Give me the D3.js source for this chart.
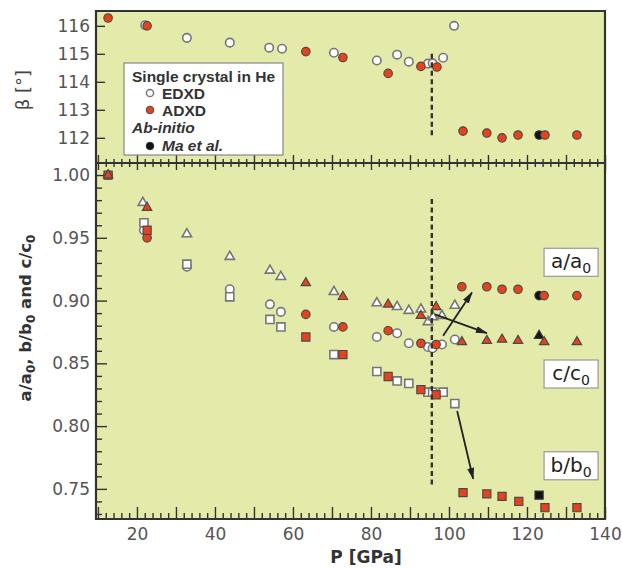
<!DOCTYPE html>
<html><head><meta charset="utf-8">
<script src="https://cdn.jsdelivr.net/npm/d3@7"></script>
<style>body{margin:0;background:#fff}svg{display:block}</style>
</head><body><svg id="c" width="622" height="569"></svg>
<script>
// ---------------- DATA ----------------
// beta angle (top panel): [P (GPa), beta (deg)]
const betaEDXD = [[22.1,116.02],[32.8,115.57],[43.8,115.40],[53.9,115.22],[57.2,115.18],[70.5,115.04],[81.5,114.76],[86.7,114.97],[89.7,114.72],[94.6,114.65],[95.8,114.66],[98.5,114.86],[101.3,116.0]];
const betaADXD = [[12.6,116.28],[22.6,116.0],[63.3,115.08],[72.8,114.87],[84.4,114.3],[92.8,114.55],[96.9,114.53],[103.6,112.24],[109.7,112.17],[113.6,112.0],[117.7,112.1],[124.6,112.1],[132.8,112.1]];
const betaMa = [[123.1,112.1]];

// a/a0 (circles), b/b0 (squares), c/c0 (triangles)
const aEDXD = [[21.8,0.956],[32.8,0.927],[43.8,0.909],[54.1,0.897],[56.9,0.891],[70.5,0.879],[81.5,0.871],[86.7,0.874],[89.7,0.866],[94.6,0.863],[95.8,0.862],[98.2,0.865],[101.5,0.869]];
const aADXD = [[12.6,1.0],[22.6,0.950],[63.3,0.889],[72.8,0.879],[84.4,0.876],[92.8,0.866],[96.7,0.865],[103.3,0.911],[109.7,0.911],[113.6,0.909],[117.7,0.909],[124.4,0.904],[132.8,0.904]];
const aMa = [[123.1,0.904]];

const bEDXD = [[21.8,0.962],[32.8,0.929],[43.8,0.903],[54.1,0.885],[56.9,0.879],[70.5,0.857],[81.5,0.8435],[86.7,0.836],[89.7,0.834],[94.6,0.827],[95.8,0.827],[98.5,0.827],[101.5,0.818]];
const bADXD = [[12.6,1.0],[22.6,0.956],[63.3,0.871],[72.8,0.857],[84.4,0.8395],[92.8,0.829],[96.7,0.825],[103.6,0.747],[109.7,0.746],[113.6,0.744],[117.9,0.740],[124.6,0.735],[132.8,0.735]];
const bMa = [[123.1,0.745]];

const cEDXD = [[21.5,0.978],[32.8,0.953],[43.8,0.935],[54.1,0.924],[56.9,0.919],[70.5,0.907],[81.5,0.898],[86.7,0.895],[89.7,0.892],[92.8,0.893],[94.6,0.883],[95.9,0.887],[98.2,0.888],[101.5,0.896]];
const cADXD = [[12.6,1.0],[22.6,0.974],[63.3,0.914],[72.8,0.903],[84.4,0.897],[92.8,0.888],[96.7,0.895],[103.3,0.867],[109.7,0.868],[113.6,0.869],[117.7,0.868],[124.4,0.867],[132.8,0.867]];
const cMa = [[123.1,0.872]];

const xTickLabels = [20,40,60,80,100,120,140];
const betaTicks = [112,113,114,115,116];
const ratioTicks = [0.75,0.80,0.85,0.90,0.95,1.00];
const transitionP = 95.6;

// annotations (data units)
const arrows = [
  {from:[98.5,0.872], to:[105.9,0.9065]},
  {from:[96.4,0.889], to:[109.7,0.874]},
  {from:[102.1,0.812], to:[106.2,0.758]}
];
const ratioLabels = [
  {txt:"a/a", v:0.9305},
  {txt:"c/c", v:0.8415},
  {txt:"b/b", v:0.7684}
];

// ---------------- LAYOUT ----------------
const L=96, R=605, T=11, M=163, B=519;
const svg = d3.select("#c");
const x = d3.scaleLinear().domain([9.5,140]).range([L,R]);
const yTop = d3.scaleLinear().domain([111.1,116.53]).range([M,T]);
const yBot = d3.scaleLinear().domain([0.726,1.0096]).range([B,M]);

const BG="#e4eaaa", RED="#e8421d", AX="#333";
const tickFont = "DejaVu Sans";

svg.append("rect").attr("x",L).attr("y",T).attr("width",R-L).attr("height",B-T).attr("fill",BG);

function styleAxis(g){
  g.select(".domain").remove();
  g.selectAll(".tick line").attr("stroke",AX).attr("stroke-width",1.4);
  g.selectAll(".tick text").attr("fill","#555").style("font-family",tickFont).style("font-size","17px");
}
const xMajor = d3.range(10,141,10);
const xMinor = d3.range(10,141,2).filter(v=>v%10!==0);

svg.append("g").attr("transform",`translate(0,${B})`)
  .call(d3.axisBottom(x).tickValues(xMajor).tickSize(-12).tickSizeOuter(0).tickPadding(9)
    .tickFormat(d=> xTickLabels.includes(d)? d : ""))
  .call(styleAxis);
svg.append("g").attr("transform",`translate(0,${B})`)
  .call(d3.axisBottom(x).tickValues(xMinor).tickSize(-6).tickSizeOuter(0).tickFormat(""))
  .call(styleAxis);
svg.append("g").attr("transform",`translate(0,${M})`)
  .call(d3.axisTop(x).tickValues(xMajor).tickSize(8).tickSizeOuter(0).tickFormat("")).call(styleAxis);
svg.append("g").attr("transform",`translate(0,${M})`)
  .call(d3.axisTop(x).tickValues(xMinor).tickSize(4).tickSizeOuter(0).tickFormat("")).call(styleAxis);
svg.append("g").attr("transform",`translate(0,${M})`)
  .call(d3.axisBottom(x).tickValues(xMajor).tickSize(7).tickSizeOuter(0).tickFormat("")).call(styleAxis);
svg.append("g").attr("transform",`translate(0,${M})`)
  .call(d3.axisBottom(x).tickValues(xMinor).tickSize(4).tickSizeOuter(0).tickFormat("")).call(styleAxis);

svg.append("g").attr("transform",`translate(${L},0)`)
  .call(d3.axisLeft(yTop).tickValues(betaTicks).tickSize(-9).tickSizeOuter(0).tickPadding(6).tickFormat(d3.format("d")))
  .call(styleAxis);
svg.append("g").attr("transform",`translate(${L},0)`)
  .call(d3.axisLeft(yBot).tickValues(ratioTicks).tickSize(-11).tickSizeOuter(0).tickPadding(6).tickFormat(d3.format(".2f")))
  .call(styleAxis);
const yMinor = d3.range(73,101,1).map(v=>v/100).filter(v=>Math.round(v*100)%5!==0);
svg.append("g").attr("transform",`translate(${L},0)`)
  .call(d3.axisLeft(yBot).tickValues(yMinor).tickSize(-6).tickSizeOuter(0).tickFormat(""))
  .call(styleAxis);

svg.append("path").attr("d",`M${L},${T}H${R}V${B}H${L}Z M${L},${M}H${R}`)
  .attr("fill","none").attr("stroke",AX).attr("stroke-width",2.2);

// ---------------- MARKS ----------------
const styles = {
  EDXD:{fill:"#fff", stroke:"#777", sw:1.6},
  ADXD:{fill:RED, stroke:"#4a4a4a", sw:1.2},
  Ma:{fill:"#111", stroke:"#333", sw:1.2}
};
const shapes = {
  circle: d3.symbol().type(d3.symbolCircle).size(56),
  square: d3.symbol().type(d3.symbolSquare).size(66),
  triangle: d3.symbol().type(d3.symbolTriangle).size(38)
};
function pts(data, ys, shape, st){
  const s = styles[st];
  svg.append("g").selectAll("path").data(data).join("path")
    .attr("d", shapes[shape]())
    .attr("transform", d=>`translate(${x(d[0])},${ys(d[1])})`)
    .attr("fill", s.fill).attr("stroke", s.stroke).attr("stroke-width", s.sw);
}
pts(betaEDXD, yTop, "circle", "EDXD");
pts(betaMa, yTop, "circle", "Ma");
pts(betaADXD, yTop, "circle", "ADXD");
pts(aEDXD, yBot, "circle", "EDXD");
pts(bEDXD, yBot, "square", "EDXD");
pts(cEDXD, yBot, "triangle", "EDXD");
pts(aMa, yBot, "circle", "Ma");
pts(bMa, yBot, "square", "Ma");
pts(cMa, yBot, "triangle", "Ma");
pts(aADXD, yBot, "circle", "ADXD");
pts(bADXD, yBot, "square", "ADXD");
pts(cADXD, yBot, "triangle", "ADXD");

svg.append("line").attr("x1",x(transitionP)).attr("x2",x(transitionP))
  .attr("y1",yTop(115.0)).attr("y2",yTop(112.0))
  .attr("stroke","#333").attr("stroke-width",2.4).attr("stroke-dasharray","5,3.5");
svg.append("line").attr("x1",x(transitionP)).attr("x2",x(transitionP))
  .attr("y1",yBot(0.981)).attr("y2",yBot(0.751))
  .attr("stroke","#333").attr("stroke-width",2.4).attr("stroke-dasharray","5,3.5");

svg.append("defs").append("marker").attr("id","ah").attr("viewBox","0 -5 12 10")
  .attr("refX",11).attr("refY",0).attr("markerWidth",12).attr("markerHeight",10)
  .attr("markerUnits","userSpaceOnUse").attr("orient","auto")
  .append("path").attr("d","M0,-3.5L12,0L0,3.5Z").attr("fill","#222");
arrows.forEach(a=>{
  svg.append("line").attr("x1",x(a.from[0])).attr("y1",yBot(a.from[1]))
    .attr("x2",x(a.to[0])).attr("y2",yBot(a.to[1]))
    .attr("stroke","#222").attr("stroke-width",1.8).attr("marker-end","url(#ah)");
});

ratioLabels.forEach(l=>{
  const cx = x(131.3), cy = yBot(l.v);
  svg.append("rect").attr("x",cx-27).attr("y",cy-14).attr("width",54).attr("height",28)
    .attr("fill","#fff").attr("stroke","#999").attr("stroke-width",1.2);
  const t = svg.append("text").attr("x",cx).attr("y",cy+6).attr("text-anchor","middle")
    .style("font-family","DejaVu Sans").style("font-size","20px").attr("fill","#222");
  t.append("tspan").text(l.txt);
  t.append("tspan").attr("dy",5).style("font-size","14px").text("0");
});

const lg = svg.append("g");
lg.append("rect").attr("x",124).attr("y",63).attr("width",159).attr("height",92)
  .attr("fill","#fff").attr("stroke","#888").attr("stroke-width",1.2);
const lf = "Liberation Sans";
lg.append("text").attr("x",132).attr("y",82).text("Single crystal in He")
  .style("font-family",lf).style("font-weight","bold").style("font-size","15.5px").attr("fill","#333");
lg.append("circle").attr("cx",150).attr("cy",93).attr("r",3.6).attr("fill","#fff").attr("stroke","#777").attr("stroke-width",1.5);
lg.append("text").attr("x",162).attr("y",99).text("EDXD")
  .style("font-family",lf).style("font-weight","bold").style("font-size","15.5px").attr("fill","#333");
lg.append("circle").attr("cx",150).attr("cy",110).attr("r",3.8).attr("fill",RED).attr("stroke","#4a4a4a").attr("stroke-width",1);
lg.append("text").attr("x",162).attr("y",116).text("ADXD")
  .style("font-family",lf).style("font-weight","bold").style("font-size","15.5px").attr("fill","#333");
lg.append("text").attr("x",132).attr("y",133).text("Ab-initio")
  .style("font-family",lf).style("font-weight","bold").style("font-style","italic").style("font-size","15.5px").attr("fill","#333");
lg.append("circle").attr("cx",150).attr("cy",146).attr("r",3.8).attr("fill","#111").attr("stroke","#333").attr("stroke-width",1);
lg.append("text").attr("x",162).attr("y",151).text("Ma et al.")
  .style("font-family",lf).style("font-weight","bold").style("font-style","italic").style("font-size","15.5px").attr("fill","#333");

svg.append("text").attr("transform","translate(29,90) rotate(-90)").attr("text-anchor","middle")
  .style("font-family","DejaVu Sans").style("font-size","18px").attr("fill","#444").text("β [°]");
const yt = svg.append("text").attr("transform","translate(31,318) rotate(-90)").attr("text-anchor","middle")
  .style("font-family","DejaVu Sans").style("font-weight","bold").style("font-size","16.5px").attr("fill","#333");
[["a/a","0",", "],["b/b","0"," and "],["c/c","0",""]].forEach(p=>{
  yt.append("tspan").text(p[0]);
  yt.append("tspan").attr("dy",4).style("font-size","12px").text(p[1]);
  if(p[2]) yt.append("tspan").attr("dy",-4).text(p[2]);
});
svg.append("text").attr("x",366).attr("y",563).attr("text-anchor","middle")
  .style("font-family","DejaVu Sans").style("font-weight","bold").style("font-size","17px").attr("fill","#333")
  .text("P [GPa]");
</script></body></html>
